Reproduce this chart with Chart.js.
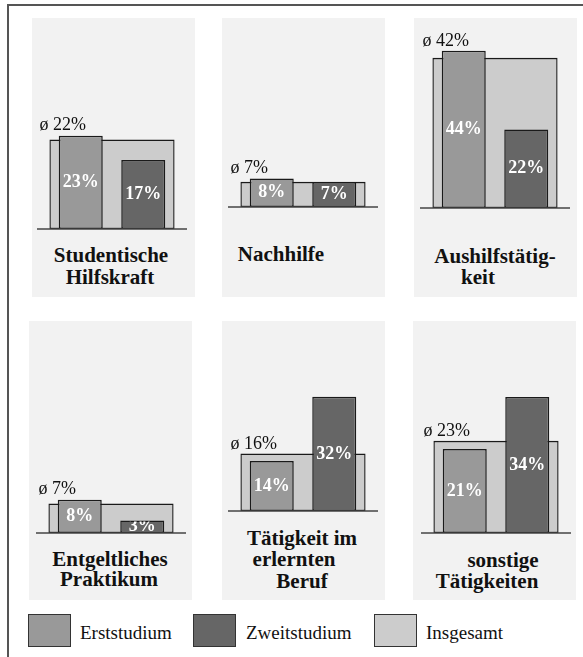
<!DOCTYPE html>
<html lang="de">
<head>
<meta charset="UTF-8" />
<title>Erwerbstätigkeit im Studium</title>
<script src="https://cdn.jsdelivr.net/npm/chart.js@4.4.1/dist/chart.umd.min.js"></script>
<style>
  html, body { margin: 0; padding: 0; background: #fff; width: 583px; height: 657px; overflow: hidden; }
  body { position: relative; font-family: "Liberation Serif", serif; color: #111; }
  .rahmen { position: absolute; left: 7px; top: 4px; width: 800px; height: 800px;
            border-top: 2px solid #555; border-left: 2px solid #555; }
  .feld { position: absolute; width: 163px; height: 279px; background: #f2f2f2; }
  canvas { position: absolute; }
  .titel { position: absolute; font-family: "Liberation Serif", serif; font-weight: bold; font-size: 21px; line-height: 22px;
           white-space: nowrap; transform: translate(-50%, -50%); }
  .leg-box { position: absolute; top: 614px; width: 43px; height: 33px; box-sizing: border-box;
             border: 1.5px solid #333; }
  .leg-text { position: absolute; top: 633px; font-family: "Liberation Serif", serif; font-size: 19px; line-height: 22px;
              white-space: nowrap; transform: translateY(-50%); }
</style>
</head>
<body>
<div class="rahmen"></div>
<div id="ablage"></div>
<script>
  // Tätigkeitsarten und Anteile in Prozent
  const kategorien = [
    ['Studentische', 'Hilfskraft'],
    ['Nachhilfe'],
    ['Aushilfstätig-', 'keit'],
    ['Entgeltliches', 'Praktikum'],
    ['Tätigkeit im', 'erlernten', 'Beruf'],
    ['sonstige', 'Tätigkeiten']
  ];
  const erststudium = [23, 8, 44, 8, 14, 21];
  const zweitstudium = [17, 7, 22, 3, 32, 34];
  const insgesamt = [22, 7, 42, 7, 16, 23];
  const reihen = ['Erststudium', 'Zweitstudium', 'Insgesamt'];
  const farben = ['#999999', '#666666', '#cccccc'];

  // Lage der Felder: graues Feld, linker Rand des Gesamtbalkens, Nulllinie, Skala, Titelzeilen
  const felder = [
    { x: 32,  y: 18,  balken: 49,  basis: 211, yMax: 52, titel: [[111, 255], [110, 277]] },
    { x: 222, y: 18,  balken: 240, basis: 189, yMax: 53, titel: [[281, 254]] },
    { x: 414, y: 18,  balken: 432, basis: 190, yMax: 53.2, titel: [[495, 256], [478, 277]] },
    { x: 29,  y: 321, balken: 48,  basis: 212, yMax: 51, titel: [[110, 559], [109, 579]] },
    { x: 222, y: 321, balken: 240, basis: 190, yMax: 53.2, titel: [[302, 538], [294, 559], [302, 581]] },
    { x: 413, y: 321, balken: 433, basis: 212, yMax: 53, titel: [[503, 560], [487, 581]] }
  ];
  const ueberstand = 12.5;   // Grundlinie ragt so weit über den Gesamtbalken hinaus
  const gesamtBreite = 125;
  const schrift = '"Liberation Serif", serif';

  // Grundlinie und Beschriftungen der Balken
  const beschriftung = {
    id: 'beschriftung',
    afterDatasetsDraw(chart) {
      const { ctx, scales } = chart;
      const y0 = scales.y.getPixelForValue(0);
      ctx.save();
      ctx.strokeStyle = '#444';
      ctx.lineWidth = 1.5;
      ctx.beginPath();
      ctx.moveTo(0, y0);
      ctx.lineTo(chart.width, y0);
      ctx.stroke();

      // Werte in den Balken, auf die Balkenfläche beschnitten
      ctx.font = 'bold 18px ' + schrift;
      ctx.fillStyle = '#fff';
      ctx.textAlign = 'center';
      ctx.textBaseline = 'middle';
      [0, 1].forEach(d => {
        chart.getDatasetMeta(d).data.forEach((el, i) => {
          const v = chart.data.datasets[d].data[i];
          if (v == null) return;
          ctx.save();
          ctx.beginPath();
          ctx.rect(el.x - el.width / 2 + 1, el.y + 1, el.width - 2, el.base - el.y - 1);
          ctx.clip();
          ctx.fillText(v + '%', el.x, (el.y + el.base) / 2);
          ctx.restore();
        });
      });

      // Durchschnitt oberhalb des Gesamtbalkens
      const ges = chart.getDatasetMeta(2).data[0];
      const erst = chart.getDatasetMeta(0).data[0];
      ctx.font = '18px ' + schrift;
      ctx.fillStyle = '#111';
      ctx.textAlign = 'left';
      ctx.fillText('ø ' + chart.data.datasets[2].data[0] + '%',
        ges.x - ges.width / 2 - 10, Math.min(ges.y, erst.y) - 10);
      ctx.restore();
    }
  };

  const ablage = document.getElementById('ablage');

  felder.forEach((f, i) => {
    const feld = document.createElement('div');
    feld.className = 'feld';
    feld.style.left = f.x + 'px';
    feld.style.top = f.y + 'px';
    ablage.appendChild(feld);

    const canvas = document.createElement('canvas');
    const breite = gesamtBreite + 2 * ueberstand;
    canvas.width = breite;
    canvas.height = f.basis + 2;
    canvas.style.left = (f.balken - ueberstand) + 'px';
    canvas.style.top = f.y + 'px';
    ablage.appendChild(canvas);

    new Chart(canvas, {
      type: 'bar',
      data: {
        datasets: [
          { label: reihen[0], data: [erststudium[i], null], backgroundColor: farben[0], xAxisID: 'x' },
          { label: reihen[1], data: [null, zweitstudium[i]], backgroundColor: farben[1], xAxisID: 'x' },
          { label: reihen[2], data: [insgesamt[i]], backgroundColor: farben[2], xAxisID: 'x2',
            barPercentage: 1, categoryPercentage: 1 }
        ]
      },
      options: {
        responsive: false,
        animation: false,
        events: [],
        layout: { padding: { left: ueberstand, right: ueberstand, top: 0, bottom: 2 } },
        datasets: {
          bar: {
            grouped: false,
            barPercentage: 0.704,
            categoryPercentage: 1,
            borderColor: '#1a1a1a',
            borderWidth: 1.5,
            borderSkipped: false
          }
        },
        scales: {
          x: { type: 'category', labels: [reihen[0], reihen[1]], display: false },
          x2: { type: 'category', labels: [reihen[2]], display: false },
          y: { min: 0, max: f.yMax, display: false }
        },
        plugins: { legend: { display: false }, tooltip: { enabled: false } }
      },
      plugins: [beschriftung]
    });

    kategorien[i].forEach((zeile, z) => {
      const t = document.createElement('div');
      t.className = 'titel';
      t.textContent = zeile;
      t.style.left = f.titel[z][0] + 'px';
      t.style.top = f.titel[z][1] + 'px';
      ablage.appendChild(t);
    });
  });

  // Legende
  const legende = [[28, 80], [193, 246], [374, 426]];
  reihen.forEach((name, i) => {
    const box = document.createElement('div');
    box.className = 'leg-box';
    box.style.left = legende[i][0] + 'px';
    box.style.background = farben[i];
    ablage.appendChild(box);
    const text = document.createElement('div');
    text.className = 'leg-text';
    text.style.left = legende[i][1] + 'px';
    text.textContent = name;
    ablage.appendChild(text);
  });
</script>
</body>
</html>
